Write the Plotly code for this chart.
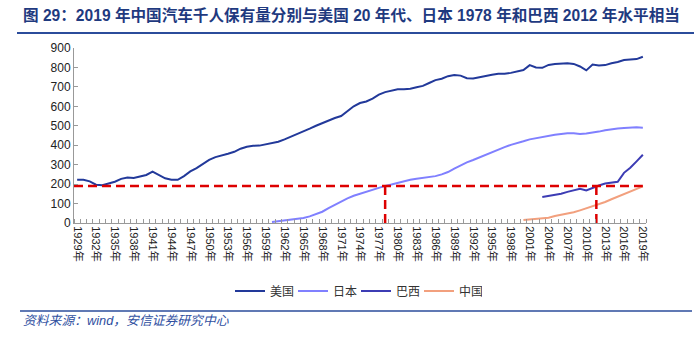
import plotly.graph_objects as go

# ---------------- data ----------------
us_years = list(range(1929, 2020))
us_values = [222, 222, 214, 197, 194, 202, 212, 227, 234, 232,
             240, 247, 264, 247, 230, 222, 222, 241, 265, 282,
             303, 325, 339, 346, 356, 366, 382, 392, 397, 398,
             406, 412, 418, 430, 443, 458, 471, 485, 500, 514,
             525, 540, 550, 575, 600, 617, 625, 640, 660, 673,
             682, 688, 688, 690, 698, 705, 720, 735, 742, 755,
             761, 758, 745, 743, 750, 757, 762, 767, 767, 772,
             778, 787, 812, 800, 798, 813, 818, 820, 822, 818,
             805, 785, 815, 810, 812, 822, 828, 838, 842, 843, 855]

jp_years = list(range(1960, 2020))
jp_values = [5, 9, 13, 17, 21, 26, 34, 46, 58, 77,
             95, 112, 127, 140, 150, 162, 172, 183, 191, 198,
             207, 215, 222, 227, 232, 236, 241, 250, 262, 280,
             297, 312, 324, 338, 348, 364, 378, 390, 402, 410,
             420, 430, 436, 442, 450, 454, 458, 462, 462, 458,
             460, 464, 470, 477, 482, 486, 488, 490, 492, 490]

br_years = list(range(2003, 2020))
br_values = [134, 139, 145, 150, 160, 168, 176, 167, 182, 193,
             203, 209, 212, 258, 284, 317, 351]

cn_years = list(range(2000, 2020))
cn_values = [16, 18, 21, 24, 27, 36, 42, 48, 55, 65,
             75, 86, 95, 108, 122, 135, 150, 165, 178, 188]

ref_level = 190
ref_years = [1978, 2011.6]

tick_years = list(range(1929, 2020, 3))
tick_labels = [f"{y}年" for y in tick_years]
y_ticks = list(range(0, 1000, 100))

title_text = "图 29：2019 年中国汽车千人保有量分别与美国 20 年代、日本 1978 年和巴西 2012 年水平相当"
source_text = "资料来源：wind，安信证券研究中心"

# ---------------- layout helpers ----------------
L, R, T, B = 74, 646, 48, 223
W, H = 694, 339


def px_x(p):
    return (p - L) / (R - L)


def px_y(p):
    return (B - p) / (B - T)


FONT = "Liberation Sans, Arial, Noto Sans CJK SC, sans-serif"
RED = "#DD0000"

fig = go.Figure()

series = [
    ("美国", us_years, us_values, "#22399A"),
    ("日本", jp_years, jp_values, "#8080FF"),
    ("巴西", br_years, br_values, "#3C3CB4"),
    ("中国", cn_years, cn_values, "#F2A07E"),
]
for name, xs, ys, col in series:
    fig.add_trace(go.Scatter(x=xs, y=ys, name=name, mode="lines",
                             line=dict(color=col, width=2)))

# reference lines (red dashed)
fig.add_trace(go.Scatter(x=[1928.5, us_years[-1]], y=[ref_level, ref_level],
                         mode="lines", showlegend=False, hoverinfo="skip",
                         line=dict(color=RED, width=2.5, dash="9px,5px")))
for ry in ref_years:
    fig.add_trace(go.Scatter(x=[ry, ry], y=[0, ref_level], mode="lines",
                             showlegend=False, hoverinfo="skip",
                             line=dict(color=RED, width=2.5, dash="9px,5px")))

fig.update_layout(
    width=W, height=H,
    margin=dict(l=L, r=W - R, t=T, b=H - B, pad=0),
    paper_bgcolor="white", plot_bgcolor="white",
    font=dict(family=FONT, size=12, color="#222"),
    showlegend=True,
    legend=dict(orientation="h", x=px_x(356), xanchor="center",
                y=px_y(291), yanchor="middle",
                font=dict(size=12, color="#333"),
                itemwidth=30, entrywidth=18, entrywidthmode="pixels",
                bgcolor="rgba(0,0,0,0)"),
    xaxis=dict(range=[1928.5, 2019.5], tickmode="array",
               tickvals=tick_years, ticktext=tick_labels,
               tickangle=90, tickfont=dict(size=11, color="#222"),
               ticks="", showgrid=False, zeroline=False,
               showline=True, linecolor="#999", linewidth=1,
               minor=dict(ticks="inside", tickmode="linear", tick0=0.5,
                          dtick=1, ticklen=4, tickcolor="#999",
                          showgrid=False)),
    yaxis=dict(range=[0, 900], tickmode="array", tickvals=y_ticks,
               ticks="inside", ticklen=4, tickcolor="#999",
               tickfont=dict(size=12, color="#222"),
               showgrid=False, zeroline=False,
               showline=True, linecolor="#999", linewidth=1),
)

# title and source
fig.add_annotation(text=f"<b>{title_text}</b>", xref="paper", yref="paper",
                   x=px_x(21), y=px_y(15), xanchor="left", yanchor="middle",
                   showarrow=False,
                   font=dict(size=15.6, color="#1F3A7F", family=FONT))
fig.add_annotation(text=f"<i>{source_text}</i>", xref="paper", yref="paper",
                   x=px_x(21), y=px_y(320), xanchor="left", yanchor="middle",
                   showarrow=False,
                   font=dict(size=12.8, color="#2F4F9F", family=FONT))
fig.add_shape(type="line", xref="paper", yref="paper",
              x0=px_x(17), x1=px_x(694), y0=px_y(33), y1=px_y(33),
              line=dict(color="#2B4C9B", width=2))
fig.add_shape(type="line", xref="paper", yref="paper",
              x0=px_x(20), x1=px_x(692), y0=px_y(311), y1=px_y(311),
              line=dict(color="#2B4C9B", width=1.5))

fig.write_html("out.html")
